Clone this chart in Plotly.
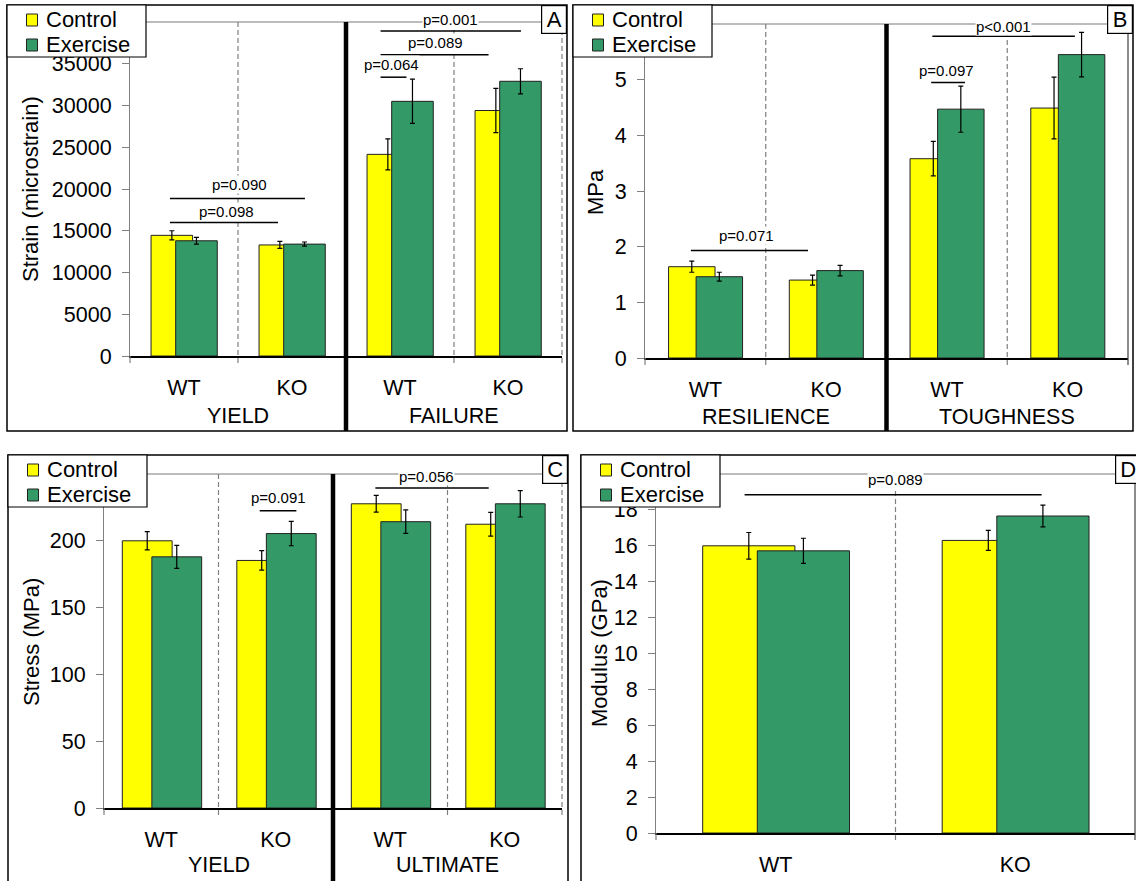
import plotly.graph_objects as go

W, H = 1136, 881
FONT = "Liberation Sans, Arial, Helvetica, sans-serif"
YELLOW = "#FFFF00"
GREEN = "#339966"
GRAY = "#808080"
series_names = ["Control", "Exercise"]

# ---------------- data ----------------
# Panel A : strain (microstrain)
a_genotype = ["WT", "KO", "WT", "KO"]
a_group = ["YIELD", "FAILURE"]
a_control = [14450, 13300, 24150, 29400]
a_control_err = [550, 420, 1850, 2650]
a_exercise = [13800, 13400, 30500, 32900]
a_exercise_err = [400, 250, 2650, 1500]
a_ymax = 40000
a_ticks = [0, 5000, 10000, 15000, 20000, 25000, 30000, 35000]
a_brackets = [  # label, x from, x to, y level, label x
    ("p=0.090", -0.13, 1.12, 18860, 0.51),
    ("p=0.098", -0.13, 0.87, 15990, 0.39),
    ("p=0.064", 1.82, 2.06, 33390, 1.92),
    ("p=0.089", 1.82, 2.82, 36080, 2.33),
    ("p=0.001", 1.82, 3.12, 38910, 2.47),
]

# Panel B : resilience / toughness (MPa)
b_genotype = ["WT", "KO", "WT", "KO"]
b_group = ["RESILIENCE", "TOUGHNESS"]
b_control = [1.64, 1.40, 3.58, 4.49]
b_control_err = [0.10, 0.09, 0.31, 0.555]
b_exercise = [1.46, 1.57, 4.47, 5.45]
b_exercise_err = [0.08, 0.093, 0.415, 0.40]
b_ymax = 6
b_ticks = [0, 1, 2, 3, 4, 5]
b_brackets = [
    ("p=0.071", -0.12, 0.85, 1.93, 0.34),
    ("p=0.097", 1.87, 2.15, 4.95, 2.0),
    ("p<0.001", 1.88, 3.06, 5.78, 2.47),
]

# Panel C : stress (MPa)
c_genotype = ["WT", "KO", "WT", "KO"]
c_group = ["YIELD", "ULTIMATE"]
c_control = [200, 185.3, 227.7, 212.4]
c_control_err = [6.8, 7.3, 6.3, 8.9]
c_exercise = [188, 205.4, 214.3, 227.7]
c_exercise_err = [8.6, 9.1, 8.8, 9.9]
c_ymax = 250
c_ticks = [0, 50, 100, 150, 200]
c_brackets = [
    ("p=0.091", 0.86, 1.18, 222.5, 1.02),
    ("p=0.056", 1.87, 2.86, 239.6, 2.32),
]

# Panel D : modulus (GPa)
d_genotype = ["WT", "KO"]
d_group = []
d_control = [16.0, 16.3]
d_control_err = [0.74, 0.56]
d_exercise = [15.72, 17.66]
d_exercise_err = [0.70, 0.61]
d_ymax = 20
d_ticks = [0, 2, 4, 6, 8, 10, 12, 14, 16, 18]
d_brackets = [
    ("p=0.089", -0.13, 1.11, 18.85, 0.5),
]

# ---------------- layout geometry (pixels) ----------------
panels = [
    dict(letter="A", s="", genotype=a_genotype, group=a_group, ctrl=a_control, ctrl_err=a_control_err,
         ex=a_exercise, ex_err=a_exercise_err, ymax=a_ymax, ticks=a_ticks, brackets=a_brackets,
         ytitle="Strain (microstrain)", plot=(130, 22, 562, 356), border=(7, 5, 567, 431),
         bw=0.385, coff=-0.305, eoff=-0.077, bounds=["dash", "thick", "dash", "dash"],
         ytitle_pos=(30, 189), group_y=416, dy=[14, 11, 13, 12, 12], letter_right=567),
    dict(letter="B", s="2", genotype=b_genotype, group=b_group, ctrl=b_control, ctrl_err=b_control_err,
         ex=b_exercise, ex_err=b_exercise_err, ymax=b_ymax, ticks=b_ticks, brackets=b_brackets,
         ytitle="MPa", plot=(645, 24, 1128, 358), border=(573, 5, 1133, 431),
         bw=0.385, coff=-0.305, eoff=-0.077, bounds=["dash", "thick", "dash", "solid"],
         ytitle_pos=(595, 192), group_y=417, dy=[15, 12, 10], letter_right=1133),
    dict(letter="C", s="3", genotype=c_genotype, group=c_group, ctrl=c_control, ctrl_err=c_control_err,
         ex=c_exercise, ex_err=c_exercise_err, ymax=c_ymax, ticks=c_ticks, brackets=c_brackets,
         ytitle="Stress (MPa)", plot=(104, 474, 562, 808), border=(8, 455, 568, 895),
         bw=0.435, coff=-0.34, eoff=-0.082, bounds=["dash", "thick", "dash", "dash"],
         ytitle_pos=(31, 642), group_y=865, dy=[13, 11], letter_right=568),
    dict(letter="D", s="4", genotype=d_genotype, group=d_group, ctrl=d_control, ctrl_err=d_control_err,
         ex=d_exercise, ex_err=d_exercise_err, ymax=d_ymax, ticks=d_ticks, brackets=d_brackets,
         ytitle="Modulus (GPa)", plot=(656, 474, 1135, 833), border=(581, 455, 1145, 895),
         bw=0.385, coff=-0.305, eoff=-0.077, bounds=["dash", "solid"],
         ytitle_pos=(599, 653), group_y=None, dy=[15], letter_right=1141),
]

fig = go.Figure()
shapes = []
legend_shapes = []
annotations = []
layout = dict(
    template="none",
    width=W, height=H, margin=dict(l=0, r=0, t=0, b=0, pad=0, autoexpand=False),
    paper_bgcolor="white", plot_bgcolor="white", barmode="overlay",
    font=dict(family=FONT, size=21, color="black"), showlegend=False,
)

colors = [YELLOW, GREEN]
for i, p in enumerate(panels):
    s = p["s"]
    n = len(p["genotype"])
    xs = list(range(n))
    l, t, r, b = p["plot"]
    ph = b - t
    below = 7 / ph

    for name, vals, errs, color, off in [
        (series_names[0], p["ctrl"], p["ctrl_err"], colors[0], p["coff"]),
        (series_names[1], p["ex"], p["ex_err"], colors[1], p["eoff"]),
    ]:
        fig.add_trace(go.Bar(
            x=xs, y=vals, name=name, width=p["bw"], offset=off,
            marker=dict(color=color, line=dict(color="#222222", width=1)),
            error_y=dict(type="data", array=errs, color="black", thickness=1.2, width=2.5),
            xaxis="x" + s, yaxis="y" + s, hoverinfo="skip", showlegend=False,
        ))

    layout["xaxis" + s] = dict(
        domain=[l / W, r / W], anchor="y" + s, range=[-0.5, n - 0.5], automargin=False,
        tickvals=xs, ticktext=p["genotype"], ticks="", showgrid=False, zeroline=False,
        showline=True, linecolor="black", linewidth=1.5,
        tickfont=dict(family=FONT, size=21.5, color="black"), ticklabelstandoff=11,
    )
    layout["yaxis" + s] = dict(
        domain=[1 - b / H, 1 - t / H], anchor="x" + s, range=[0, p["ymax"]], automargin=False,
        tickvals=p["ticks"], tickformat="d", ticks="outside", ticklen=7, tickcolor=GRAY, tickwidth=1,
        showgrid=False, zeroline=False, showline=True, linecolor=GRAY, linewidth=1.2,
        tickfont=dict(family=FONT, size=21.5, color="black"), ticklabelstandoff=6,
    )

    bl, bt, br, bb = p["border"]
    xd, yd = "x" + s + " domain", "y" + s + " domain"
    # top plot border line
    shapes.append(dict(type="line", xref=xd, yref=yd, x0=0, x1=1, y0=1, y1=1,
                       line=dict(color="#a6a6a6", width=1.5)))
    # axis tick below origin
    shapes.append(dict(type="line", xref=xd, yref=yd, x0=0, x1=0, y0=-below, y1=0,
                       line=dict(color=GRAY, width=1.2)))
    # category boundaries
    for k, style in enumerate(p["bounds"], start=1):
        xx = k / n
        if style == "thick":
            shapes.append(dict(type="line", xref=xd, yref=yd, x0=xx, x1=xx,
                               y0=-(bb - b) / ph, y1=1, line=dict(color="black", width=4.5)))
        elif style == "dash":
            shapes.append(dict(type="line", xref=xd, yref=yd, x0=xx, x1=xx, y0=-below, y1=1,
                               line=dict(color=GRAY, width=1.2, dash="5px,3px")))
        else:
            shapes.append(dict(type="line", xref=xd, yref=yd, x0=xx, x1=xx, y0=-below, y1=1,
                               line=dict(color="#404040", width=1.2)))
    # panel border
    shapes.append(dict(type="rect", xref="paper", yref="paper", x0=bl / W, x1=br / W,
                       y0=1 - bb / H, y1=1 - bt / H, line=dict(color="black", width=1.5)))

    # significance brackets
    for (label, x0, x1, yv, xt), dy in zip(p["brackets"], p["dy"]):
        shapes.append(dict(type="line", xref="x" + s, yref="y" + s, x0=x0, x1=x1, y0=yv, y1=yv,
                           line=dict(color="black", width=1.5)))
        annotations.append(dict(
            text=label, xref="x" + s, yref="y" + s, x=xt, y=yv, yshift=dy,
            xanchor="center", yanchor="middle", showarrow=False,
            font=dict(family=FONT, size=15, color="black"),
            bgcolor="white", borderpad=0,
        ))

    # group labels
    for g, label in enumerate(p["group"]):
        annotations.append(dict(
            text=label, xref="x" + s, yref="paper", x=2 * g + 0.5, y=1 - p["group_y"] / H,
            xanchor="center", yanchor="middle", showarrow=False,
            font=dict(family=FONT, size=21.5, color="black"),
        ))
    # y title
    tx, ty = p["ytitle_pos"]
    annotations.append(dict(
        text=p["ytitle"], xref="paper", yref="paper", x=tx / W, y=1 - ty / H, textangle=-90,
        xanchor="center", yanchor="middle", showarrow=False,
        font=dict(family=FONT, size=22, color="black"),
    ))
    # panel letter box
    annotations.append(dict(
        text=p["letter"], xref="paper", yref="paper", x=p["letter_right"] / W,
        y=1 - bt / H, xanchor="right", yanchor="top", showarrow=False,
        font=dict(family=FONT, size=22, color="black"), bgcolor="white",
        bordercolor="black", borderwidth=1.2, borderpad=1, width=22, height=25,
    ))

    # legend box (Control / Exercise) at the panel's top-left corner
    lx, ly = bl, bt
    legend_shapes.append(dict(type="rect", xref="paper", yref="paper",
                              x0=lx / W, x1=(lx + 139) / W, y0=1 - (ly + 52) / H, y1=1 - ly / H,
                              fillcolor="white", line=dict(color="black", width=1.2)))
    for j, name in enumerate(series_names):
        cy = ly + 15 + 25 * j
        legend_shapes.append(dict(type="rect", xref="paper", yref="paper",
                                  x0=(lx + 19.5) / W, x1=(lx + 30.5) / W,
                                  y0=1 - (cy + 6) / H, y1=1 - (cy - 6) / H,
                                  fillcolor=colors[j], line=dict(color="#222222", width=1)))
        annotations.append(dict(
            text=name, xref="paper", yref="paper", x=(lx + 37) / W, y=1 - (cy - 0.5) / H,
            xanchor="left", yanchor="middle", showarrow=False,
            font=dict(family=FONT, size=22, color="black"),
        ))

layout["shapes"] = shapes + legend_shapes
layout["annotations"] = annotations
fig.update_layout(**layout)
fig.write_html("out.html")
